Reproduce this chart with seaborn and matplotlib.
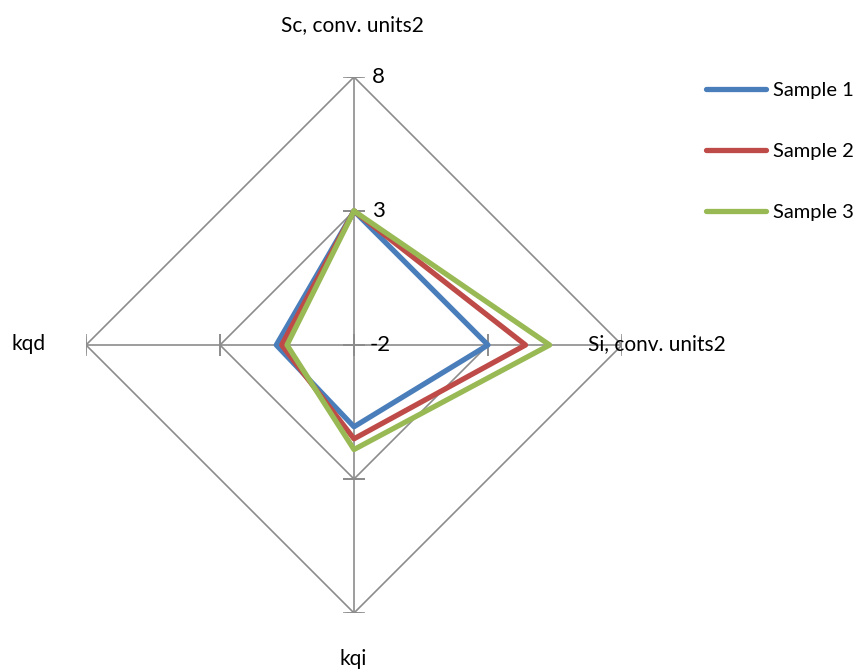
import numpy as np
import pandas as pd
import matplotlib
matplotlib.use("Agg")
import matplotlib.pyplot as plt
import seaborn as sns

# axes of the radar, clockwise from the top
categories = ["Sc, conv. units2", "Si, conv. units2", "kqi", "kqd"]
samples = ["Sample 1", "Sample 2", "Sample 3"]
sample_1 = [3.0, 3.0, 1.05, 0.9]
sample_2 = [3.0, 4.4, 1.5, 0.7]
sample_3 = [3.0, 5.3, 1.9, 0.5]
levels = [-2, 3, 8]
level_labels = ["-2", "3", "8"]

colors = ["#4A7EBB", "#BE4B48", "#98B954"]
grid_color = "#8C8C8C"

sns.set_theme(style="white")
plt.rcParams["font.family"] = ["Lato", "DejaVu Sans"]
plt.rcParams["text.color"] = "black"

n = len(categories)
theta = np.linspace(0, 2 * np.pi, n, endpoint=False)
theta_closed = np.append(theta, 2 * np.pi)

rows = []
for name, vals in zip(samples, [sample_1, sample_2, sample_3]):
    closed = list(vals) + [vals[0]]
    for t, v in zip(theta_closed, closed):
        rows.append({"theta": t, "value": v, "sample": name})
df = pd.DataFrame(rows)

fig = plt.figure(figsize=(8.62, 6.71), dpi=100)
W, H = 862, 671
cx, cy, R = 354, 345, 268
ax = fig.add_axes([(cx - R) / W, (H - cy - R) / H, 2 * R / W, 2 * R / H],
                  projection="polar")
ax.set_theta_offset(np.pi / 2)
ax.set_theta_direction(-1)
ax.set_ylim(levels[0], levels[-1])
ax.grid(False)
ax.spines["polar"].set_visible(False)
ax.set_xticks([])
ax.set_yticks([])
ax.patch.set_alpha(0)

# diamond gridlines
for lv in levels[1:]:
    ax.plot(theta_closed, [lv] * (n + 1), color=grid_color, lw=1.2, zorder=1)
# spokes with tick marks
for i, t in enumerate(theta):
    ax.plot([t, t], [levels[0], levels[-1]], color=grid_color, lw=1.2, zorder=1)
    mk = "_" if i % 2 == 0 else "|"
    ax.plot([t] * len(levels), levels, ls="none", marker=mk, ms=16,
            mew=1.4, color=grid_color, zorder=1)

sns.lineplot(data=df, x="theta", y="value", hue="sample", palette=colors,
             sort=False, estimator=None, lw=3.8, ax=ax, zorder=3, legend=False)
ax.set_xlabel("")
ax.set_ylabel("")

# value labels on the top axis
for lv, lab in zip(levels, level_labels):
    ax.annotate(lab, xy=(0, lv), xytext=(18 if lv != levels[0] else 16, 0),
                textcoords="offset pixels", ha="left", va="center",
                fontsize=16, color="black", zorder=4)

# category labels
fs = 15
fig.text(352 / W, 1 - 25 / H, categories[0], ha="center", va="center", fontsize=fs)
fig.text(588 / W, 1 - 344 / H, categories[1], ha="left", va="center", fontsize=fs)
fig.text(353 / W, 1 - 659 / H, categories[2], ha="center", va="center", fontsize=fs)
fig.text(29 / W, 1 - 344 / H, categories[3], ha="center", va="center", fontsize=fs)

handles = [plt.Line2D([], [], color=c, lw=3.8) for c in colors]
fig.legend(handles, samples, loc="upper left", bbox_to_anchor=(706 / W, 1 - 82 / H),
           frameon=False, fontsize=14.5, handlelength=3.0, handletextpad=0.35,
           labelspacing=2.17, borderpad=0, borderaxespad=0)

fig.savefig("out.png", dpi=100)
